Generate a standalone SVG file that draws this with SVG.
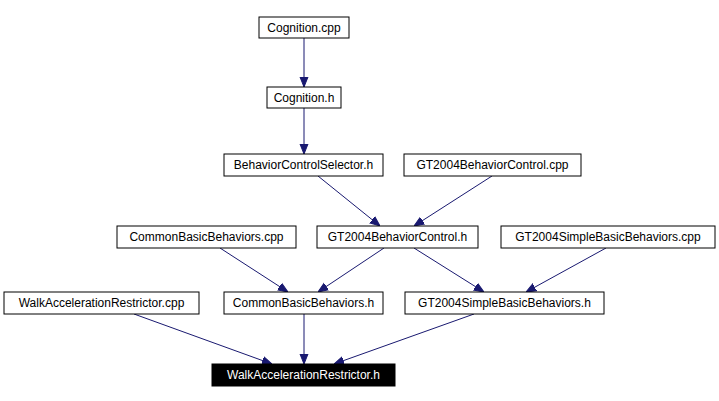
<svg xmlns="http://www.w3.org/2000/svg" width="719" height="401" viewBox="0 0 719 401">
<style>
.n rect{fill:#fff;stroke:#000;stroke-width:1}
.n text{font-family:"Liberation Sans",Arial,sans-serif;font-size:12px;text-anchor:middle}
.e line{stroke:#191970;stroke-width:1}
</style>
<defs><marker id="a" viewBox="0 0 10 10" refX="10" refY="5" markerWidth="10" markerHeight="10" markerUnits="userSpaceOnUse" orient="auto"><path d="M0,1 L10,5 L0,9 Z" fill="#191970" stroke="#191970"/></marker></defs>
<rect width="719" height="401" fill="#fff"/>
<g class="e" marker-end="url(#a)">
<line x1="304" y1="38" x2="304" y2="87" marker-end="url(#a)"/>
<line x1="304" y1="108" x2="304" y2="154" marker-end="url(#a)"/>
<line x1="318" y1="176" x2="380" y2="226" marker-end="url(#a)"/>
<line x1="492" y1="176" x2="414" y2="226" marker-end="url(#a)"/>
<line x1="220" y1="248" x2="288" y2="292" marker-end="url(#a)"/>
<line x1="384" y1="248" x2="318" y2="292" marker-end="url(#a)"/>
<line x1="414" y1="248" x2="484" y2="292" marker-end="url(#a)"/>
<line x1="606" y1="248" x2="526" y2="292" marker-end="url(#a)"/>
<line x1="134" y1="314" x2="272" y2="364" marker-end="url(#a)"/>
<line x1="304" y1="314" x2="304" y2="364" marker-end="url(#a)"/>
<line x1="474" y1="314" x2="334" y2="364" marker-end="url(#a)"/>
</g>
<g id="n1" class="n"><rect x="259" y="17" width="90" height="21"/><text x="304" y="32">Cognition.cpp</text></g>
<g id="n2" class="n"><rect x="267" y="87" width="74" height="21"/><text x="304" y="102">Cognition.h</text></g>
<g id="n3" class="n"><rect x="224" y="154" width="159" height="22"/><text x="303.5" y="169">BehaviorControlSelector.h</text></g>
<g id="n4" class="n"><rect x="404" y="154" width="177" height="22"/><text x="492.5" y="169">GT2004BehaviorControl.cpp</text></g>
<g id="n5" class="n"><rect x="117" y="226" width="179" height="22"/><text x="206.5" y="241">CommonBasicBehaviors.cpp</text></g>
<g id="n6" class="n"><rect x="317" y="226" width="161" height="22"/><text x="397.5" y="241">GT2004BehaviorControl.h</text></g>
<g id="n7" class="n"><rect x="501" y="226" width="214" height="22"/><text x="608" y="241">GT2004SimpleBasicBehaviors.cpp</text></g>
<g id="n8" class="n"><rect x="4" y="292" width="195" height="22"/><text x="101.5" y="307">WalkAccelerationRestrictor.cpp</text></g>
<g id="n9" class="n"><rect x="224" y="292" width="159" height="22"/><text x="303.5" y="307">CommonBasicBehaviors.h</text></g>
<g id="n10" class="n"><rect x="405" y="292" width="199" height="22"/><text x="504.5" y="307">GT2004SimpleBasicBehaviors.h</text></g>
<g id="n11" class="n"><rect x="212" y="364" width="183" height="22" style="fill:#000"/><text x="303.5" y="379" style="fill:#fff">WalkAccelerationRestrictor.h</text></g>
</svg>
